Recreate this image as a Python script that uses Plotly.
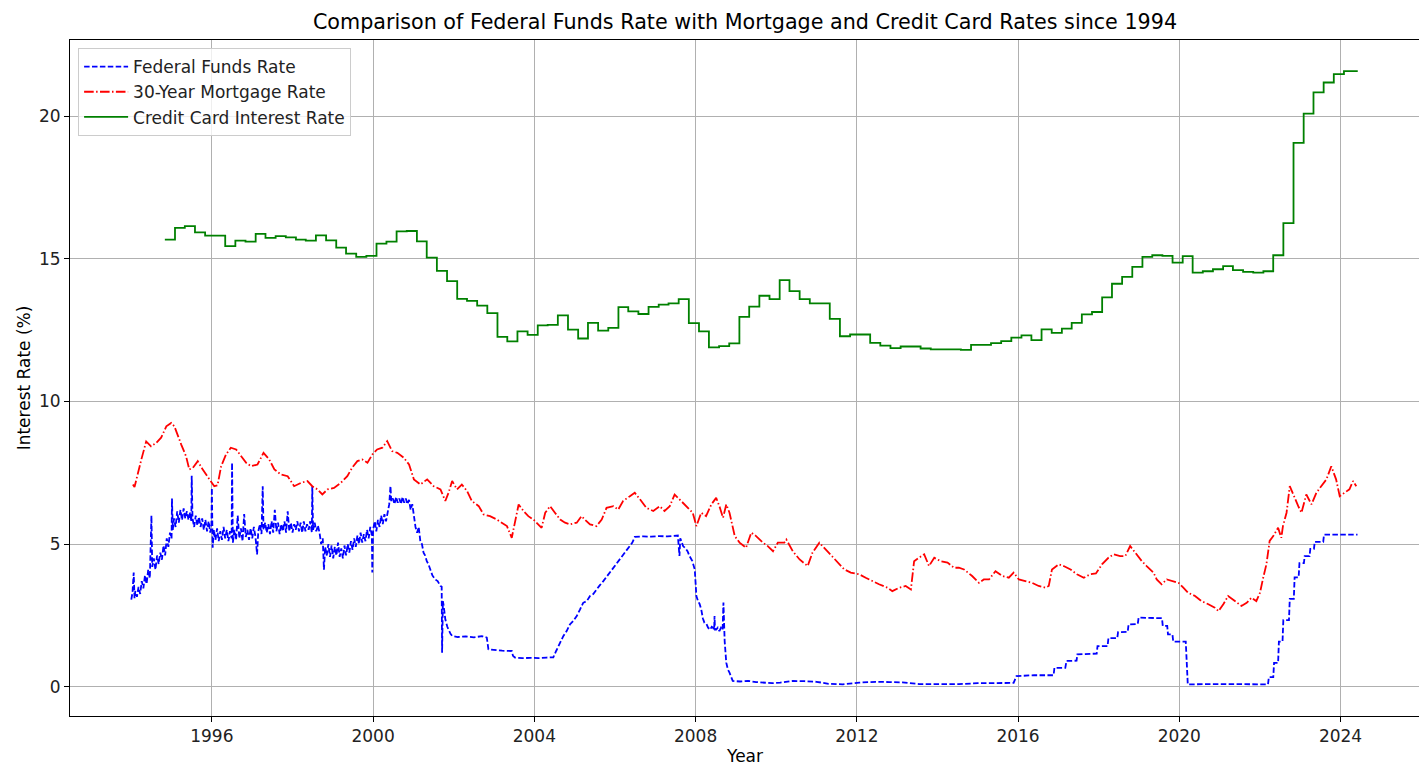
import pandas as pd
import plotly.graph_objects as go

# ---------------- data ----------------
ff_years = [
    1994.00, 1994.03, 1994.06, 1994.08, 1994.10, 1994.14, 1994.18, 1994.22, 1994.26, 1994.30,
    1994.34, 1994.38, 1994.42, 1994.46, 1994.50, 1994.52, 1994.56, 1994.60, 1994.64, 1994.68,
    1994.72, 1994.76, 1994.80, 1994.84, 1994.88, 1994.92, 1994.96, 1995.00, 1995.01, 1995.03,
    1995.06, 1995.10, 1995.14, 1995.18, 1995.22, 1995.26, 1995.30, 1995.34, 1995.38, 1995.42,
    1995.46, 1995.49, 1995.50, 1995.52, 1995.56, 1995.60, 1995.64, 1995.68, 1995.72, 1995.76,
    1995.80, 1995.84, 1995.88, 1995.92, 1995.96, 1995.99, 1996.00, 1996.02, 1996.05, 1996.09,
    1996.13, 1996.17, 1996.21, 1996.25, 1996.29, 1996.33, 1996.37, 1996.41, 1996.45, 1996.49,
    1996.50, 1996.52, 1996.56, 1996.60, 1996.64, 1996.68, 1996.72, 1996.76, 1996.80, 1996.84,
    1996.88, 1996.92, 1996.96, 1997.00, 1997.04, 1997.08, 1997.12, 1997.15, 1997.19, 1997.23,
    1997.26, 1997.28, 1997.32, 1997.36, 1997.40, 1997.44, 1997.48, 1997.52, 1997.56, 1997.60,
    1997.64, 1997.68, 1997.72, 1997.76, 1997.80, 1997.84, 1997.88, 1997.92, 1997.96, 1998.00,
    1998.04, 1998.08, 1998.12, 1998.16, 1998.20, 1998.24, 1998.28, 1998.32, 1998.36, 1998.40,
    1998.44, 1998.48, 1998.49, 1998.51, 1998.55, 1998.59, 1998.63, 1998.67, 1998.71, 1998.75,
    1998.78, 1998.81, 1998.85, 1998.89, 1998.93, 1998.97, 1999.01, 1999.05, 1999.09, 1999.13,
    1999.17, 1999.21, 1999.25, 1999.29, 1999.33, 1999.37, 1999.41, 1999.45, 1999.49, 1999.53,
    1999.57, 1999.61, 1999.65, 1999.69, 1999.73, 1999.77, 1999.81, 1999.85, 1999.89, 1999.93,
    1999.97, 1999.98, 2000.00, 2000.04, 2000.08, 2000.12, 2000.16, 2000.20, 2000.24, 2000.28,
    2000.32, 2000.36, 2000.40, 2000.43, 2000.45, 2000.49, 2000.53, 2000.57, 2000.61, 2000.65,
    2000.69, 2000.73, 2000.77, 2000.81, 2000.85, 2000.89, 2000.93, 2000.97, 2001.01, 2001.05,
    2001.09, 2001.13, 2001.17, 2001.21, 2001.25, 2001.29, 2001.33, 2001.37, 2001.42, 2001.47,
    2001.54, 2001.60, 2001.67, 2001.70, 2001.71, 2001.73, 2001.75, 2001.79, 2001.84, 2001.87,
    2001.92, 2001.96, 2002.10, 2002.30, 2002.50, 2002.70, 2002.82, 2002.86, 2003.00, 2003.20,
    2003.44, 2003.47, 2003.52, 2003.70, 2003.90, 2004.10, 2004.30, 2004.47, 2004.54, 2004.60,
    2004.66, 2004.72, 2004.80, 2004.88, 2004.96, 2005.05, 2005.13, 2005.21, 2005.30, 2005.38,
    2005.46, 2005.54, 2005.62, 2005.71, 2005.79, 2005.87, 2005.96, 2006.04, 2006.12, 2006.20,
    2006.29, 2006.37, 2006.43, 2006.49, 2006.70, 2006.90, 2007.10, 2007.30, 2007.50, 2007.56,
    2007.60, 2007.62, 2007.65, 2007.69, 2007.75, 2007.80, 2007.85, 2007.92, 2007.98, 2008.02,
    2008.06, 2008.10, 2008.14, 2008.18, 2008.22, 2008.27, 2008.31, 2008.36, 2008.40, 2008.43,
    2008.46, 2008.47, 2008.48, 2008.51, 2008.55, 2008.59, 2008.63, 2008.67, 2008.69, 2008.70,
    2008.72, 2008.76, 2008.80, 2008.84, 2008.88, 2008.92, 2009.10, 2009.30, 2009.50, 2009.67,
    2009.90, 2010.10, 2010.41, 2010.70, 2011.00, 2011.30, 2011.65, 2012.06, 2012.47, 2012.80,
    2013.13, 2013.54, 2014.00, 2014.53, 2015.00, 2015.36, 2015.89, 2015.96, 2016.40, 2016.88,
    2016.90, 2017.17, 2017.20, 2017.45, 2017.47, 2017.95, 2017.97, 2018.22, 2018.24, 2018.46,
    2018.48, 2018.72, 2018.74, 2018.97, 2018.99, 2019.57, 2019.59, 2019.70, 2019.72, 2019.83,
    2019.85, 2020.16, 2020.18, 2020.21, 2021.00, 2022.00, 2022.20, 2022.22, 2022.33, 2022.35,
    2022.45, 2022.47, 2022.56, 2022.58, 2022.72, 2022.74, 2022.84, 2022.86, 2022.96, 2022.98,
    2023.09, 2023.11, 2023.23, 2023.25, 2023.34, 2023.36, 2023.57, 2023.59, 2024.00, 2024.42,
]
ff_values = [
    3.05, 3.30, 4.00, 3.10, 3.35, 3.15, 3.50, 3.25, 3.70, 3.45,
    3.90, 3.60, 4.10, 3.80, 6.00, 4.20, 4.50, 4.10, 4.60, 4.30,
    4.70, 4.45, 4.95, 4.60, 5.20, 4.90, 5.40, 5.20, 6.60, 5.50,
    5.90, 5.60, 6.15, 5.75, 6.20, 5.85, 6.25, 5.90, 6.15, 5.85,
    6.10, 5.80, 7.40, 5.90, 5.60, 6.00, 5.65, 5.95, 5.60, 5.90,
    5.50, 5.85, 5.45, 5.80, 5.40, 5.70, 6.97, 4.87, 5.50, 5.15,
    5.55, 5.10, 5.45, 5.15, 5.60, 5.20, 5.50, 5.10, 5.45, 5.20,
    7.85, 5.05, 5.50, 5.15, 6.00, 5.20, 5.55, 5.10, 6.05, 5.25,
    5.50, 5.15, 5.55, 5.20, 5.60, 5.25, 4.64, 5.45, 5.70, 5.35,
    7.03, 5.50, 5.75, 5.40, 5.70, 5.35, 5.80, 5.40, 6.20, 5.45,
    5.75, 5.35, 5.70, 5.45, 5.80, 5.40, 6.15, 5.45, 5.75, 5.40,
    5.70, 5.50, 5.80, 5.45, 5.75, 5.40, 5.80, 5.45, 5.70, 5.50,
    5.80, 5.40, 7.03, 5.50, 5.75, 5.45, 5.65, 5.40, 5.00, 5.20,
    4.10, 4.90, 4.60, 5.00, 4.55, 4.95, 4.50, 4.90, 4.60, 5.05,
    4.55, 4.85, 4.50, 4.95, 4.60, 5.00, 4.70, 5.10, 4.80, 5.20,
    4.90, 5.30, 5.00, 5.40, 5.05, 5.35, 5.10, 5.50, 5.20, 5.60,
    5.30, 4.00, 5.50, 5.80, 5.45, 5.85, 5.60, 6.00, 5.70, 6.05,
    5.80, 6.10, 6.40, 7.03, 6.50, 6.60, 6.40, 6.65, 6.45, 6.60,
    6.40, 6.65, 6.45, 6.60, 6.40, 6.55, 6.20, 6.40, 5.90, 5.60,
    5.40, 5.60, 5.10, 5.00, 4.70, 4.60, 4.40, 4.30, 4.10, 3.90,
    3.76, 3.70, 3.53, 3.50, 1.19, 3.00, 2.83, 2.36, 2.10, 2.00,
    1.85, 1.78, 1.74, 1.76, 1.73, 1.77, 1.72, 1.31, 1.28, 1.26,
    1.25, 1.08, 1.02, 1.00, 1.01, 1.00, 1.02, 1.03, 1.25, 1.43,
    1.55, 1.78, 1.95, 2.18, 2.30, 2.48, 2.70, 2.94, 3.00, 3.18,
    3.25, 3.41, 3.55, 3.70, 3.85, 4.00, 4.15, 4.29, 4.45, 4.58,
    4.75, 4.93, 5.05, 5.25, 5.27, 5.26, 5.28, 5.27, 5.28, 5.30,
    4.58, 5.20, 5.10, 4.93, 4.85, 4.75, 4.58, 4.40, 4.11, 3.18,
    3.00, 2.90, 2.71, 2.40, 2.24, 2.20, 2.07, 2.00, 2.10, 2.07,
    2.00, 2.48, 2.00, 2.00, 2.07, 1.95, 2.07, 2.00, 2.95, 1.90,
    1.60, 0.84, 0.60, 0.49, 0.30, 0.20, 0.18, 0.20, 0.16, 0.14,
    0.12, 0.14, 0.20, 0.19, 0.17, 0.10, 0.08, 0.14, 0.17, 0.16,
    0.15, 0.09, 0.08, 0.09, 0.12, 0.13, 0.13, 0.37, 0.40, 0.40,
    0.66, 0.66, 0.90, 0.91, 1.13, 1.16, 1.42, 1.42, 1.70, 1.70,
    1.91, 1.92, 2.18, 2.20, 2.42, 2.40, 2.13, 2.13, 1.83, 1.83,
    1.58, 1.58, 1.10, 0.08, 0.09, 0.08, 0.08, 0.33, 0.33, 0.83,
    0.83, 1.58, 1.58, 2.33, 2.33, 3.08, 3.08, 3.83, 3.83, 4.33,
    4.33, 4.58, 4.58, 4.83, 4.83, 5.08, 5.08, 5.33, 5.33, 5.33,
]

mort_years = [
    1994.04, 1994.08, 1994.25, 1994.37, 1994.49, 1994.62, 1994.74, 1994.87, 1994.99, 1995.07,
    1995.24, 1995.36, 1995.44, 1995.53, 1995.65, 1995.77, 1995.94, 1996.06, 1996.14, 1996.23,
    1996.35, 1996.47, 1996.60, 1996.72, 1996.85, 1996.97, 1997.13, 1997.28, 1997.42, 1997.55,
    1997.71, 1997.88, 1998.04, 1998.21, 1998.37, 1998.49, 1998.62, 1998.74, 1998.87, 1999.03,
    1999.20, 1999.36, 1999.48, 1999.61, 1999.73, 1999.86, 1999.98, 2000.10, 2000.23, 2000.35,
    2000.47, 2000.60, 2000.76, 2000.89, 2001.01, 2001.17, 2001.34, 2001.50, 2001.67, 2001.79,
    2001.87, 2001.96, 2002.08, 2002.20, 2002.33, 2002.45, 2002.62, 2002.74, 2002.90, 2003.07,
    2003.19, 2003.32, 2003.44, 2003.52, 2003.61, 2003.73, 2003.85, 2003.98, 2004.06, 2004.18,
    2004.27, 2004.39, 2004.51, 2004.64, 2004.76, 2004.88, 2005.05, 2005.17, 2005.25, 2005.38,
    2005.54, 2005.67, 2005.79, 2005.96, 2006.08, 2006.20, 2006.37, 2006.49, 2006.62, 2006.78,
    2006.95, 2007.11, 2007.23, 2007.36, 2007.48, 2007.60, 2007.77, 2007.93, 2008.02, 2008.14,
    2008.26, 2008.39, 2008.51, 2008.59, 2008.68, 2008.76, 2008.84, 2008.97, 2009.09, 2009.25,
    2009.38, 2009.50, 2009.67, 2009.79, 2009.92, 2010.04, 2010.20, 2010.25, 2010.41, 2010.58,
    2010.78, 2010.90, 2011.07, 2011.19, 2011.36, 2011.52, 2011.69, 2011.85, 2012.06, 2012.22,
    2012.39, 2012.55, 2012.76, 2012.88, 2013.05, 2013.21, 2013.34, 2013.42, 2013.54, 2013.67,
    2013.79, 2013.92, 2014.08, 2014.25, 2014.41, 2014.53, 2014.66, 2014.86, 2015.03, 2015.15,
    2015.28, 2015.44, 2015.61, 2015.77, 2015.89, 2016.02, 2016.18, 2016.35, 2016.51, 2016.68,
    2016.76, 2016.84, 2017.01, 2017.13, 2017.30, 2017.46, 2017.63, 2017.79, 2017.93, 2018.08,
    2018.24, 2018.37, 2018.53, 2018.66, 2018.78, 2018.90, 2019.07, 2019.19, 2019.36, 2019.44,
    2019.56, 2019.69, 2019.81, 2019.98, 2020.10, 2020.22, 2020.39, 2020.55, 2020.72, 2020.88,
    2020.97, 2021.09, 2021.21, 2021.38, 2021.54, 2021.67, 2021.79, 2021.91, 2022.00, 2022.08,
    2022.16, 2022.24, 2022.33, 2022.45, 2022.53, 2022.57, 2022.66, 2022.74, 2022.82, 2022.95,
    2023.03, 2023.15, 2023.28, 2023.40, 2023.52, 2023.65, 2023.77, 2023.89, 2023.98, 2024.10,
    2024.22, 2024.31, 2024.39,
]
mort_values = [
    7.09, 7.00, 7.97, 8.60, 8.43, 8.55, 8.73, 9.13, 9.25, 9.13,
    8.49, 8.08, 7.62, 7.68, 7.91, 7.62, 7.27, 7.03, 7.06, 7.73,
    8.14, 8.38, 8.32, 8.08, 7.85, 7.73, 7.79, 8.20, 7.97, 7.62,
    7.44, 7.38, 7.03, 7.15, 7.21, 7.03, 6.92, 6.74, 6.92, 6.97,
    7.15, 7.38, 7.68, 7.91, 7.97, 7.85, 8.14, 8.32, 8.38, 8.61,
    8.26, 8.20, 8.03, 7.79, 7.27, 7.09, 7.27, 7.03, 6.92, 6.51,
    6.80, 7.21, 6.92, 7.09, 6.86, 6.51, 6.33, 6.04, 5.98, 5.86,
    5.75, 5.63, 5.22, 5.75, 6.39, 6.16, 5.98, 5.86, 5.75, 5.57,
    6.10, 6.33, 6.10, 5.86, 5.75, 5.69, 5.75, 5.98, 5.86, 5.69,
    5.63, 5.86, 6.27, 6.33, 6.21, 6.51, 6.68, 6.80, 6.57, 6.27,
    6.16, 6.33, 6.16, 6.33, 6.74, 6.57, 6.33, 6.10, 5.63, 6.10,
    5.98, 6.39, 6.62, 6.33, 5.92, 6.39, 6.10, 5.28, 5.05, 4.87,
    5.40, 5.28, 5.05, 4.93, 4.75, 5.05, 5.05, 5.16, 4.75, 4.46,
    4.23, 4.70, 5.05, 4.87, 4.64, 4.40, 4.11, 4.00, 3.94, 3.82,
    3.70, 3.59, 3.47, 3.35, 3.47, 3.53, 3.41, 4.40, 4.52, 4.64,
    4.23, 4.52, 4.40, 4.35, 4.17, 4.17, 4.11, 3.88, 3.64, 3.76,
    3.76, 4.05, 3.88, 3.82, 4.00, 3.76, 3.70, 3.64, 3.53, 3.47,
    3.53, 4.11, 4.29, 4.23, 4.11, 3.94, 3.82, 3.94, 3.97, 4.29,
    4.52, 4.64, 4.58, 4.58, 4.93, 4.70, 4.40, 4.23, 4.00, 3.76,
    3.59, 3.76, 3.70, 3.64, 3.47, 3.29, 3.18, 3.00, 2.89, 2.77,
    2.65, 2.89, 3.18, 3.00, 2.83, 2.94, 3.12, 3.00, 3.29, 3.82,
    4.29, 5.11, 5.28, 5.57, 5.22, 5.63, 6.10, 7.03, 6.74, 6.33,
    6.10, 6.74, 6.39, 6.80, 7.03, 7.27, 7.73, 7.27, 6.68, 6.80,
    6.92, 7.21, 7.03,
]

cc_start = "1994-11-01"
cc_end = "2024-06-05"
cc_values = [
    15.68, 16.09, 16.15, 15.93, 15.82, 15.82, 15.45, 15.64, 15.61, 15.88,
    15.74, 15.80, 15.76, 15.68, 15.64, 15.83, 15.65, 15.40, 15.19, 15.07,
    15.11, 15.54, 15.61, 15.97, 15.98, 15.62, 15.05, 14.58, 14.22, 13.60,
    13.53, 13.36, 13.10, 12.27, 12.11, 12.46, 12.34, 12.67, 12.69, 13.02,
    12.52, 12.21, 12.76, 12.49, 12.58, 13.31, 13.16, 13.07, 13.32, 13.40,
    13.44, 13.59, 12.75, 12.46, 11.90, 11.94, 12.04, 12.97, 13.33, 13.71,
    13.59, 14.26, 13.87, 13.59, 13.44, 13.44, 12.90, 12.29, 12.35, 12.35,
    12.06, 11.96, 11.87, 11.93, 11.93, 11.86, 11.83, 11.83, 11.83, 11.81,
    11.99, 11.99, 12.05, 12.12, 12.24, 12.32, 12.15, 12.53, 12.41, 12.56,
    12.76, 13.06, 13.14, 13.65, 14.13, 14.37, 14.72, 15.07, 15.13, 15.11,
    14.87, 15.10, 14.52, 14.57, 14.64, 14.75, 14.61, 14.55, 14.52, 14.57,
    15.13, 16.26, 19.07, 20.10, 20.84, 21.19, 21.48, 21.59, 21.59,
]

x_tick_years = [1996, 2000, 2004, 2008, 2012, 2016, 2020, 2024]
y_ticks = [0, 5, 10, 15, 20]


def to_date(y):
    yr = int(y)
    start = pd.Timestamp(yr, 1, 1)
    end = pd.Timestamp(yr + 1, 1, 1)
    return start + (end - start) * (y - yr)


ff_x = [to_date(v) for v in ff_years]
mort_x = [to_date(v) for v in mort_years]
cc_x = list(pd.date_range(cc_start, periods=len(cc_values), freq="3MS")) + [pd.Timestamp(cc_end)]
cc_y = cc_values + [cc_values[-1]]

FONT = "DejaVu Sans, Arial, sans-serif"
TICK_SIZE = 17

fig = go.Figure()
fig.add_trace(go.Scatter(
    x=ff_x, y=ff_values, mode="lines", name="Federal Funds Rate",
    line=dict(color="blue", width=1.8, dash="5.5px,2.4px"),
))
fig.add_trace(go.Scatter(
    x=mort_x, y=mort_values, mode="lines", name="30-Year Mortgage Rate",
    line=dict(color="red", width=1.8, dash="9.6px,2.4px,1.5px,2.4px"),
))
fig.add_trace(go.Scatter(
    x=cc_x, y=cc_y, mode="lines", name="Credit Card Interest Rate",
    line=dict(color="green", width=1.8, shape="hv"),
))

# the page body has an 8px margin; the figure is sized/margined to compensate
fig.update_layout(
    width=1419, height=761,
    margin=dict(l=62, r=7, t=32, b=53, autoexpand=False),
    paper_bgcolor="white", plot_bgcolor="white",
    font=dict(family=FONT, size=TICK_SIZE, color="black"),
    title=dict(
        text="Comparison of Federal Funds Rate with Mortgage and Credit Card Rates since 1994",
        x=0.5, xref="paper", xanchor="center", y=1 - 14 / 761, yanchor="middle",
        font=dict(family=FONT, size=20.7, color="black"),
    ),
    showlegend=True,
    legend=dict(
        x=0.006, y=0.988, xanchor="left", yanchor="top",
        bgcolor="rgba(255,255,255,0.8)", bordercolor="#cccccc", borderwidth=1,
        font=dict(family=FONT, size=TICK_SIZE, color="#222222"),
        tracegroupgap=2, itemwidth=44,
    ),
)

fig.update_xaxes(
    type="date",
    range=[to_date(1992.48), to_date(2025.97)],
    tickvals=[pd.Timestamp(y, 1, 1) for y in x_tick_years],
    ticktext=[str(y) for y in x_tick_years],
    showgrid=True, gridcolor="#b0b0b0", gridwidth=1,
    showline=True, linecolor="black", linewidth=1, mirror=True,
    ticks="outside", ticklen=5, tickcolor="black",
    zeroline=False, automargin=False,
    title=dict(text="Year", font=dict(family=FONT, size=TICK_SIZE), standoff=4),
    tickfont=dict(family=FONT, size=TICK_SIZE, color="#222222"),
)
fig.update_yaxes(
    range=[-1.03, 22.68],
    tickvals=y_ticks,
    showgrid=True, gridcolor="#b0b0b0", gridwidth=1,
    showline=True, linecolor="black", linewidth=1, mirror=True,
    ticks="outside", ticklen=5, tickcolor="black",
    zeroline=False, automargin=False,
    title=dict(text="Interest Rate (%)", font=dict(family=FONT, size=TICK_SIZE), standoff=4),
    tickfont=dict(family=FONT, size=TICK_SIZE, color="#222222"),
)

fig.write_html("out.html")
